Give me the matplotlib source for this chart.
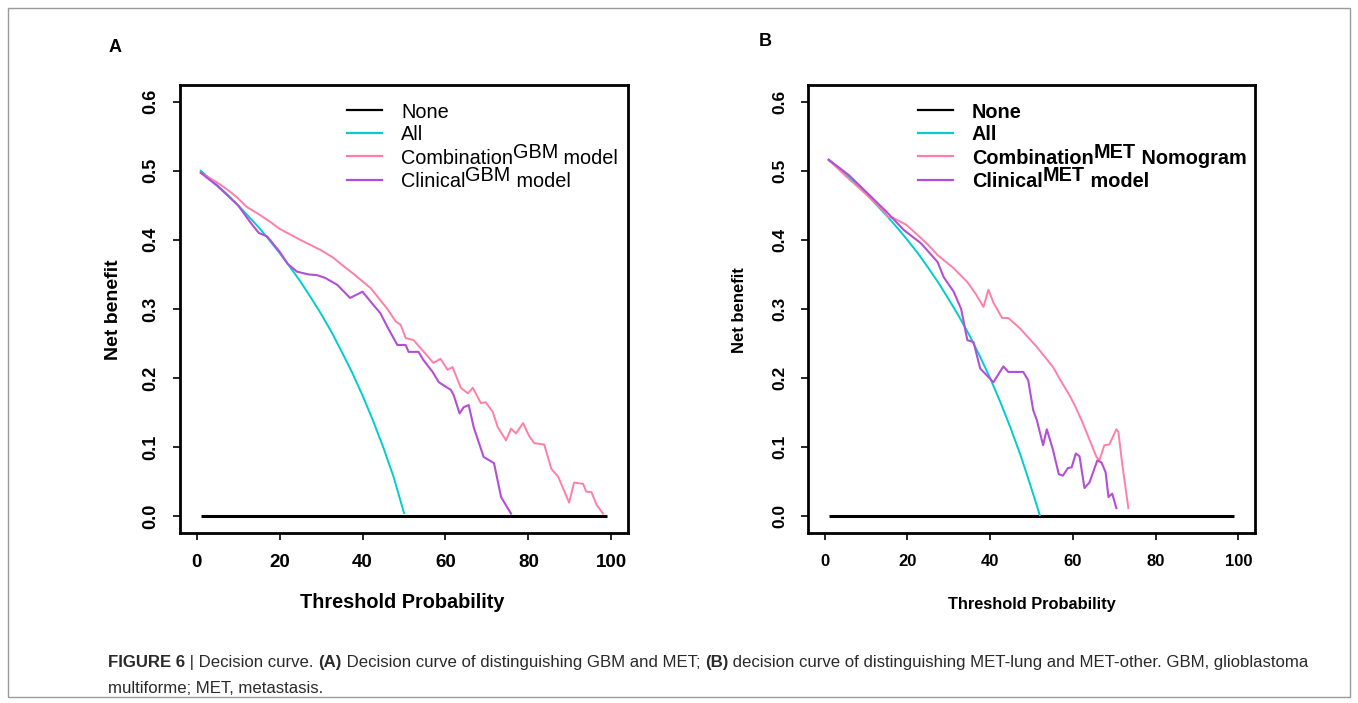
import matplotlib
matplotlib.use("Agg")
import matplotlib.pyplot as plt
from matplotlib.lines import Line2D
from matplotlib.patches import Rectangle

plt.rcParams['font.family'] = ['Liberation Sans', 'DejaVu Sans']

# ---------------- data ----------------
x_ticks = [0, 20, 40, 60, 80, 100]
y_ticks = [0.0, 0.1, 0.2, 0.3, 0.4, 0.5, 0.6]
x_ticklabels = ["0", "20", "40", "60", "80", "100"]
y_ticklabels = ["0.0", "0.1", "0.2", "0.3", "0.4", "0.5", "0.6"]

none_x = [1, 99]
none_y = [0.0, 0.0]

# Panel A
all_A_x = [1, 2.5, 5, 7.5, 10, 12.5, 15, 17.5, 20, 22.5, 25, 27.5, 30, 32.5, 35, 37.5, 40, 42.5, 45, 47.5, 50]
all_A_y = [0.500, 0.492, 0.479, 0.465, 0.450, 0.434, 0.418, 0.400, 0.381, 0.361, 0.340, 0.317, 0.293,
           0.267, 0.238, 0.208, 0.175, 0.139, 0.100, 0.057, 0.005]

comb_A_x = [1, 5, 8, 10, 12, 15, 18, 20, 25, 30, 33, 35, 38, 40, 42, 44, 46, 48, 49.2, 50.4, 52.3, 54.5,
            57.1, 58.8, 60.5, 61.7, 63.7, 65.4, 66.6, 68.5, 69.7, 71.4, 72.6, 74.6, 75.8, 77, 78.7, 80.1,
            81.4, 83.8, 85.5, 87.2, 89.8, 91, 93.2, 93.9, 95.2, 96.4, 98]
comb_A_y = [0.497, 0.483, 0.470, 0.460, 0.448, 0.437, 0.425, 0.416, 0.400, 0.385, 0.374, 0.364, 0.350,
            0.340, 0.330, 0.315, 0.300, 0.282, 0.277, 0.258, 0.255, 0.240, 0.222, 0.228, 0.212, 0.216,
            0.186, 0.178, 0.186, 0.164, 0.165, 0.151, 0.129, 0.110, 0.127, 0.120, 0.135, 0.117, 0.106,
            0.104, 0.069, 0.057, 0.020, 0.049, 0.047, 0.036, 0.035, 0.017, 0.004]

clin_A_x = [1, 5, 10, 13, 15, 17, 20, 22, 24.2, 27, 29, 31, 33.9, 37, 40, 42.6, 44.3, 46, 48.4, 50.4,
            51.1, 53.5, 54.7, 56.9, 58.4, 61.3, 62, 63.4, 64.4, 65.6, 66.8, 69.2, 71.7, 73.4, 75.8]
clin_A_y = [0.497, 0.478, 0.450, 0.425, 0.410, 0.405, 0.383, 0.365, 0.354, 0.350, 0.349, 0.345, 0.335,
            0.316, 0.325, 0.306, 0.294, 0.274, 0.248, 0.248, 0.238, 0.238, 0.226, 0.209, 0.194, 0.183,
            0.175, 0.149, 0.158, 0.161, 0.129, 0.086, 0.077, 0.028, 0.004]

# Panel B
all_B_x = [1, 2.5, 5, 7.5, 10, 12.5, 15, 17.5, 20, 22.5, 25, 27.5, 30, 32.5, 35, 37.5, 40, 42.5, 45, 47.5, 50, 52]
all_B_y = [0.515, 0.508, 0.495, 0.481, 0.467, 0.451, 0.435, 0.418, 0.400, 0.381, 0.360, 0.338, 0.314,
           0.289, 0.262, 0.232, 0.200, 0.165, 0.127, 0.086, 0.040, 0.002]

comb_B_x = [1, 4.8, 8.9, 12, 14.4, 15.3, 16.5, 19.7, 22.5, 25, 27.3, 31.2, 34.5, 36.5, 38.4, 39.6, 40.8,
            42.9, 44.4, 47.2, 51.3, 55.2, 57, 59.2, 60.5, 62.1, 65.7, 66.4, 67.6, 68.8, 70.5, 71, 71.9, 73.4]
comb_B_y = [0.516, 0.494, 0.472, 0.455, 0.441, 0.433, 0.432, 0.422, 0.407, 0.393, 0.378, 0.359, 0.339,
            0.322, 0.303, 0.328, 0.309, 0.287, 0.287, 0.272, 0.245, 0.216, 0.197, 0.175, 0.160, 0.139,
            0.086, 0.081, 0.103, 0.104, 0.126, 0.122, 0.077, 0.012]

clin_B_x = [1, 5.8, 9.6, 14.9, 19.2, 23.3, 27.3, 28.8, 31.2, 33, 34.5, 36, 37.6, 40.8, 43.2, 44.4, 48,
            49.2, 50.4, 51.3, 52.8, 53.7, 55.2, 56.6, 57.6, 58.8, 59.7, 60.7, 61.6, 62.8, 64, 65.9, 66.9,
            67.9, 68.6, 69.5, 70.5]
clin_B_y = [0.516, 0.494, 0.472, 0.441, 0.414, 0.395, 0.368, 0.346, 0.325, 0.300, 0.255, 0.252, 0.214,
            0.194, 0.217, 0.209, 0.209, 0.197, 0.154, 0.139, 0.103, 0.126, 0.096, 0.061, 0.059, 0.070,
            0.071, 0.091, 0.087, 0.041, 0.049, 0.081, 0.078, 0.064, 0.028, 0.033, 0.012]

# ---------------- style ----------------
C_NONE = "#000000"
C_ALL = "#00CDCD"
C_COMB = "#FF7FA6"
C_CLIN = "#B24FD6"

W, H = 1358, 703
fig = plt.figure(figsize=(W / 100, H / 100), dpi=100)
renderer = fig.canvas.get_renderer()


def fx(x):
    return x / W


def fy(y):
    return 1 - y / H


def rich(x_px, base_px, pieces, size, color="black"):
    """pieces: (text, raise_px, bold)"""
    x = x_px
    for s, dy, bold in pieces:
        t = fig.text(fx(x), fy(base_px - dy), s, fontsize=size, color=color,
                     weight="bold" if bold else "normal", ha="left", va="baseline")
        bb = t.get_window_extent(renderer)
        x += bb.width
    return x


def setup(ax, xt_size, yt_size):
    ax.set_xlim(-4, 104)
    ax.set_ylim(-0.024, 0.624)
    ax.set_xticks(x_ticks)
    ax.set_xticklabels(x_ticklabels, fontsize=xt_size, fontweight="bold")
    ax.set_yticks(y_ticks)
    ax.set_yticklabels(y_ticklabels, fontsize=yt_size, fontweight="bold", rotation=90, va="center")
    ax.tick_params(direction="out", length=5, width=1.2, pad=10)
    for sp in ax.spines.values():
        sp.set_linewidth(2.0)


axA = fig.add_axes([fx(180), fy(533), 448 / W, 448 / H])
axB = fig.add_axes([fx(808), fy(533), 447 / W, 448 / H])

for ax, (ax_, ay_), (cx, cy), (kx, ky) in [
        (axA, (all_A_x, all_A_y), (comb_A_x, comb_A_y), (clin_A_x, clin_A_y)),
        (axB, (all_B_x, all_B_y), (comb_B_x, comb_B_y), (clin_B_x, clin_B_y))]:
    ax.plot(none_x, none_y, color=C_NONE, lw=2.2, solid_capstyle="butt")
    ax.plot(ax_, ay_, color=C_ALL, lw=1.4)
    ax.plot(cx, cy, color=C_COMB, lw=1.4)
    ax.plot(kx, ky, color=C_CLIN, lw=1.5)

setup(axA, 13.5, 13)
setup(axB, 12, 12.5)

# axis labels
fig.text(fx(402), fy(603), "Threshold Probability", fontsize=14.3, fontweight="bold", ha="center", va="center")
fig.text(fx(113), fy(310), "Net benefit", fontsize=14, fontweight="bold", ha="center", va="center", rotation=90)
fig.text(fx(1032), fy(604), "Threshold Probability", fontsize=11.8, fontweight="bold", ha="center", va="center")
fig.text(fx(740), fy(310), "Net benefit", fontsize=12, fontweight="bold", ha="center", va="center", rotation=90)

# panel letters
fig.text(fx(115), fy(47), "A", fontsize=13, fontweight="bold", ha="center", va="center")
fig.text(fx(765), fy(42), "B", fontsize=13, fontweight="bold", ha="center", va="center")

# legends (drawn manually)
rows = [110, 133, 156, 179.5]
colors = [C_NONE, C_ALL, C_COMB, C_CLIN]
leg_A = [[("None", 0, False)], [("All", 0, False)],
         [("Combination", 0, False), ("GBM", 6, False), (" model", 0, False)],
         [("Clinical", 0, False), ("GBM", 6, False), (" model", 0, False)]]
leg_B = [[("None", 0, True)], [("All", 0, True)],
         [("Combination", 0, True), ("MET", 6, True), (" Nomogram", 0, True)],
         [("Clinical", 0, True), ("MET", 6, True), (" model", 0, True)]]
for (h0, h1, tx, entries) in [(347, 382, 401, leg_A), (918, 953, 972, leg_B)]:
    for r, c, pieces in zip(rows, colors, entries):
        fig.add_artist(Line2D([fx(h0), fx(h1)], [fy(r), fy(r)], color=c, lw=1.6))
        rich(tx, r + 7.5, pieces, 14.3)

# caption
cap_col = "#2a2a2a"
rich(108, 667, [("FIGURE 6", 0, True), (" | Decision curve. ", 0, False), ("(A)", 0, True),
                (" Decision curve of distinguishing GBM and MET; ", 0, False), ("(B)", 0, True),
                (" decision curve of distinguishing MET-lung and MET-other. GBM, glioblastoma", 0, False)],
     12.1, cap_col)
rich(108, 693, [("multiforme; MET, metastasis.", 0, False)], 12.1, cap_col)

# outer frame
fig.add_artist(Rectangle((fx(8), fy(697)), (1350 - 8) / W, (697 - 8) / H, transform=fig.transFigure,
                         fill=False, edgecolor="#9a9a9a", lw=1.0))

fig.savefig("out.png", dpi=100)
